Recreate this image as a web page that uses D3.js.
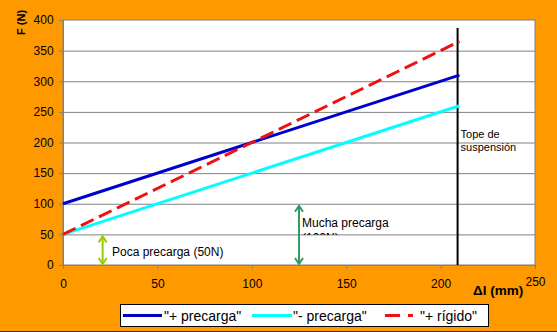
<!DOCTYPE html>
<html><head><meta charset="utf-8">
<script src="https://cdn.jsdelivr.net/npm/d3@7"></script>
<style>body{margin:0;background:#FF9900}svg{display:block;font-family:"Liberation Sans",Arial,sans-serif}</style>
</head><body><svg id="c" width="557" height="332"></svg>
<script>
const xTicks=[0,50,100,150,200,250];
const yTicks=[0,50,100,150,200,250,300,350,400];
const xValues=[0,210];
const masPrecarga=[100,310];
const menosPrecarga=[50,260];
const masRigido=[50,365];
const seriesNames=['"+ precarga"','"- precarga"','"+ rígido"'];
const topeX=209;

const svg=d3.select("#c");
svg.append("rect").attr("width",557).attr("height",332).attr("fill","#FF9900");
svg.append("line").attr("x1",0).attr("x2",557).attr("y1",331.5).attr("y2",331.5).attr("stroke","#333");
const L=63,R=535,T=20,B=265;
const x=d3.scaleLinear().domain([0,250]).range([L,R]);
const y=d3.scaleLinear().domain([0,400]).range([B,T]);
svg.append("rect").attr("x",L).attr("y",T).attr("width",R-L).attr("height",B-T).attr("fill","#fff").attr("stroke","#808080");
svg.append("g").selectAll("line").data(yTicks.filter(d=>d>0&&d<400)).join("line")
 .attr("x1",L).attr("x2",R).attr("y1",d=>y(d)+0.5).attr("y2",d=>y(d)+0.5).attr("stroke","#808080");
const ax=svg.append("g").attr("transform",`translate(0,${B})`).call(d3.axisBottom(x).tickValues(xTicks).tickSize(4).tickSizeOuter(0));
const ay=svg.append("g").attr("transform",`translate(${L},0)`).call(d3.axisLeft(y).tickValues(yTicks).tickSize(4).tickSizeOuter(0));
[ax,ay].forEach(a=>{a.select(".domain").attr("stroke","#808080");a.selectAll(".tick line").attr("stroke","#808080");
 a.selectAll("text").attr("fill","#000").attr("font-size",12).attr("font-family","Liberation Sans, Arial, sans-serif");});
ax.selectAll("text").attr("dy","1.3em");
ax.selectAll(".tick").filter(d=>d===250).select("text").attr("dy","1.2em");
ay.selectAll("text").attr("dx","-0.2em");

// tope
svg.append("line").attr("x1",x(topeX)).attr("x2",x(topeX)).attr("y1",28).attr("y2",B).attr("stroke","#000").attr("stroke-width",2);
const tt=svg.append("text").attr("font-size",11).attr("fill","#000");
tt.append("tspan").attr("x",x(topeX)+3).attr("y",138).text("Tope de");
tt.append("tspan").attr("x",x(topeX)+3).attr("y",151).text("suspensión");

const line=d3.line().x(d=>x(d[0])).y(d=>y(d[1]));
const z=(v)=>xValues.map((xv,i)=>[xv,v[i]]);
svg.append("path").attr("d",line(z(menosPrecarga))).attr("stroke","#00FFFF").attr("stroke-width",3).attr("fill","none");
svg.append("path").attr("d",line(z(masPrecarga))).attr("stroke","#0000CC").attr("stroke-width",3).attr("fill","none");
svg.append("path").attr("d",line(z(masRigido))).attr("stroke","#EE1111").attr("stroke-width",3).attr("fill","none").attr("stroke-dasharray","14,6");

// arrows
function darrow(xv,y1v,y2v,color){
 const g=svg.append("g").attr("stroke",color).attr("stroke-width",2).attr("fill","none");
 const X=x(xv),Y1=y(y1v),Y2=y(y2v);
 g.append("line").attr("x1",X).attr("x2",X).attr("y1",Y1+2).attr("y2",Y2-1);
 g.append("path").attr("d",`M${X-4},${Y1+8}L${X},${Y1+2}L${X+4},${Y1+8}`);
 g.append("path").attr("d",`M${X-4},${Y2-7}L${X},${Y2-1}L${X+4},${Y2-7}`);
}
darrow(21,50,0,"#99CC00");
darrow(125,100,0,"#339966");
svg.append("text").attr("x",112).attr("y",256).attr("font-size",12).attr("fill","#000").text("Poca precarga (50N)");
svg.append("defs").append("clipPath").attr("id","cp").append("rect").attr("x",290).attr("y",200).attr("width",110).attr("height",35);
const mt=svg.append("text").attr("font-size",12).attr("fill","#000").attr("clip-path","url(#cp)");
mt.append("tspan").attr("x",302).attr("y",227).text("Mucha precarga");
mt.append("tspan").attr("x",302).attr("y",242).text("(100N)");

// axis titles
svg.append("text").attr("transform","translate(25,35) rotate(-90)").attr("font-size",11).attr("font-weight","bold").attr("fill","#000").text("F (N)");
svg.append("text").attr("x",473).attr("y",295).attr("font-size",13.5).attr("font-weight","bold").attr("fill","#000").text("Δl (mm)");

// legend
const lg=svg.append("g");
lg.append("rect").attr("x",120.5).attr("y",304.5).attr("width",368).attr("height",22).attr("fill","#fff").attr("stroke","#000");
const items=[{c:"#0000CC",x1:123,x2:162,tx:164,d:null},{c:"#00FFFF",x1:252,x2:292,tx:293,d:null},{c:"#EE1111",x1:385,x2:413,tx:420,d:"15,8"}];
items.forEach((it,i)=>{
 lg.append("line").attr("x1",it.x1).attr("x2",it.x2).attr("y1",315.5).attr("y2",315.5).attr("stroke",it.c).attr("stroke-width",3).attr("stroke-dasharray",it.d);
 lg.append("text").attr("x",it.tx).attr("y",320.5).attr("font-size",14).attr("fill","#000").text(seriesNames[i]);
});
</script></body></html>
